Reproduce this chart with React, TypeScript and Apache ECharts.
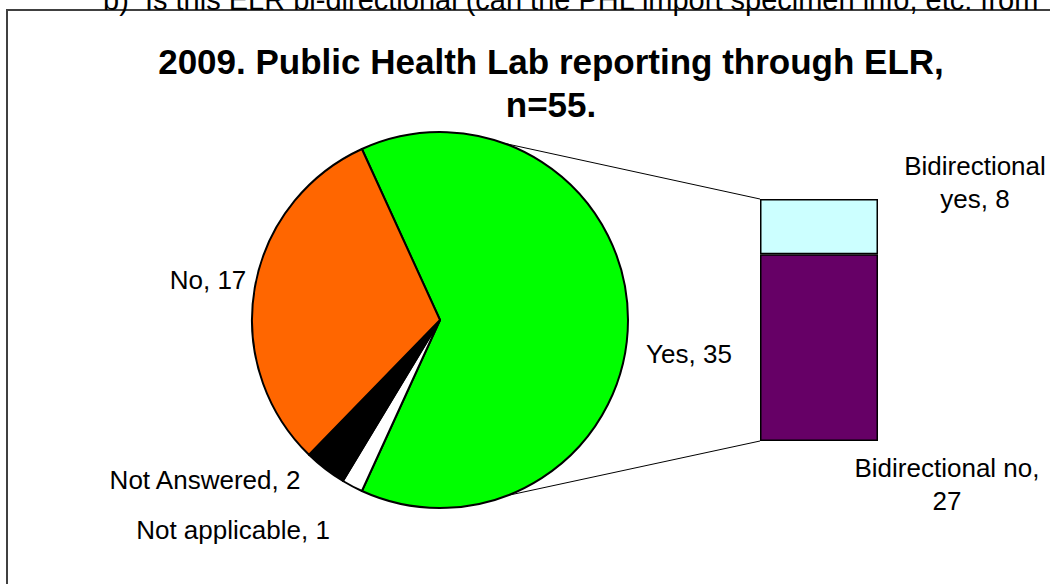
import React, { useEffect, useRef } from "react";
import * as echarts from "echarts";

// ---- data ----
const pieNames = ["Yes", "Not applicable", "Not Answered", "No"];
const pieValues = [35, 1, 2, 17];
const barNames = ["Bidirectional no", "Bidirectional yes"];
const barValues = [27, 8];
const titleLines = ["2009. Public Health Lab reporting through ELR,", "n=55."];
const headerText = "b)  Is this ELR bi-directional (can the PHL import specimen info, etc. from";

// ---- layout / style ----
const FONT = "'Liberation Sans', Arial, sans-serif";
const pieColors = ["#00FF00", "#FFFFFF", "#000000", "#FF6600"];
const barColors = ["#660066", "#CCFFFF"];
const PIE_C = [440, 320];
const PIE_R = 188;
const BAR = { left: 760, top: 199, width: 118, height: 242 };
const LABEL_SIZE = 26;
const pieLabelPos: [number, number, string][] = [
  [689, 354, "center"],
  [208, 280, "center"],
  [205, 480, "center"],
  [233, 530, "center"],
];
const pieLabelIndex: Record<string, number> = { "Yes": 0, "No": 1, "Not Answered": 2, "Not applicable": 3 };
const barLabelPos: [number, number][] = [
  [947, 484],
  [975, 182],
];

export default function App() {
  const ref = useRef<HTMLDivElement>(null);
  useEffect(() => {
    document.body.style.margin = "0";
    if (!ref.current) return;
    const chart = echarts.init(ref.current, undefined, { renderer: "svg" });
    const total = pieValues.reduce((a, b) => a + b, 0);
    const yesSpan = (pieValues[0] / total) * 360;
    const startAngle = yesSpan / 2;

    const edgePt = (degFromTop: number) => {
      const r = (degFromTop * Math.PI) / 180;
      return [PIE_C[0] + PIE_R * Math.sin(r), PIE_C[1] - PIE_R * Math.cos(r)];
    };
    const upStart = edgePt(20);
    const loStart = edgePt(159);

    chart.setOption({
      animation: false,
      textStyle: { fontFamily: FONT },
      grid: { left: BAR.left, top: BAR.top, width: BAR.width, height: BAR.height },
      xAxis: { type: "category", data: [""], show: false },
      yAxis: { type: "value", min: 0, max: pieValues[0], show: false },
      series: [
        {
          type: "pie",
          center: PIE_C,
          radius: PIE_R,
          startAngle,
          clockwise: true,
          data: pieNames.map((n, i) => ({ name: n, value: pieValues[i], itemStyle: { color: pieColors[i] } })),
          itemStyle: { borderColor: "#000", borderWidth: 2 },
          label: {
            show: true,
            formatter: "{b}, {c}",
            fontSize: LABEL_SIZE,
            color: "#000",
            fontFamily: FONT,
          },
          labelLine: { show: false },
          labelLayout: (p: any) => {
            const pos = pieLabelPos[pieLabelIndex[pieNames[p.dataIndex]]];
            return { x: pos[0], y: pos[1], align: pos[2], verticalAlign: "middle" };
          },
          emphasis: { disabled: true },
        },
        ...barNames.map((n, i) => ({
          type: "bar",
          name: n,
          stack: "s",
          barWidth: "100%",
          data: [barValues[i]],
          itemStyle: { color: barColors[i], borderColor: "#000", borderWidth: 1.5 },
          label: {
            show: true,
            fontSize: LABEL_SIZE,
            color: "#000",
            lineHeight: 33,
            align: "center",
            fontFamily: FONT,
            formatter: (p: any) =>
              i === 0 ? `${n},\n${p.value}` : `${n.replace(" ", "\n")}, ${p.value}`,
          },
          labelLayout: () => ({ x: barLabelPos[i][0], y: barLabelPos[i][1], align: "center", verticalAlign: "middle" }),
          emphasis: { disabled: true },
        })),
      ],
      graphic: [
        {
          type: "rect",
          shape: { x: 7, y: 10, width: 1100, height: 700 },
          style: { fill: "none", stroke: "#404040", lineWidth: 2 },
          z: -1,
        },
        {
          type: "text",
          x: 103,
          y: 14,
          style: { text: headerText, fontSize: 29, fontFamily: FONT, fill: "#000", verticalAlign: "bottom" },
        },
        ...titleLines.map((t, i) => ({
          type: "text",
          x: 551,
          y: 61 + i * 43,
          style: {
            text: t,
            fontSize: 35,
            fontWeight: "bold",
            fontFamily: FONT,
            fill: "#000",
            align: "center",
            verticalAlign: "middle",
          },
        })),
        {
          type: "line",
          shape: { x1: upStart[0], y1: upStart[1], x2: BAR.left, y2: BAR.top },
          style: { stroke: "#000", lineWidth: 1 },
        },
        {
          type: "line",
          shape: { x1: loStart[0], y1: loStart[1], x2: BAR.left, y2: BAR.top + BAR.height },
          style: { stroke: "#000", lineWidth: 1 },
        },
      ],
    });
    return () => chart.dispose();
  }, []);
  return <div ref={ref} style={{ width: 1050, height: 584 }} />;
}
